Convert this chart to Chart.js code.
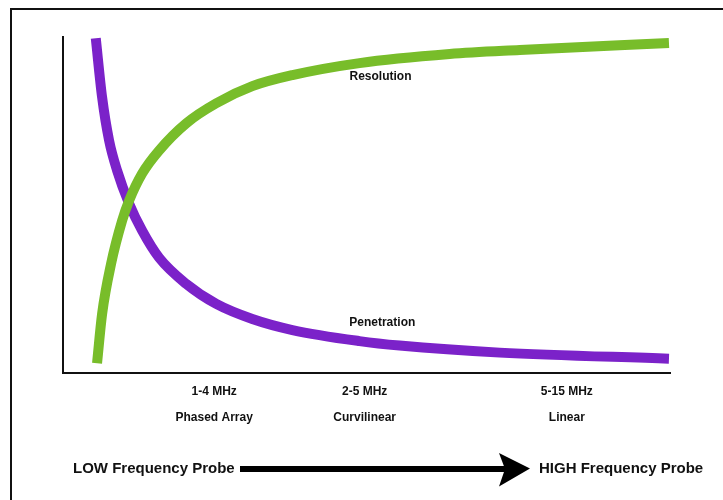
<!DOCTYPE html>
<html>
<head>
<meta charset="utf-8">
<script src="https://cdn.jsdelivr.net/npm/chart.js@4.4.1/dist/chart.umd.min.js"></script>
<style>
  body { margin: 0; width: 723px; height: 500px; overflow: hidden; background: #fff; position: relative; font-family: "Liberation Sans", Arial, sans-serif; }
  #frame { position: absolute; left: 10px; top: 8px; width: 760px; height: 540px; border: 2px solid #111; }
  #wrap { position: absolute; left: 0; top: 0; width: 723px; height: 500px; }
  .probe { position: absolute; top: 458px; font-size: 15px; line-height: 20px; font-weight: bold; color: #111; white-space: nowrap; }
  .low { left: 73px; }
  .high { left: 539px; }
  .arrow { position: absolute; left: 238px; top: 450px; }
</style>
</head>
<body>
<div id="frame"></div>
<div id="wrap"><canvas id="probeChart"></canvas></div>
<div class="probe low">LOW Frequency Probe</div>
<svg class="arrow" width="300" height="40">
  <rect x="2" y="16" width="266" height="6" fill="#000"></rect>
  <polygon points="261,3 292,18.5 261,36.5 267,19" fill="#000"></polygon>
</svg>
<div class="probe high">HIGH Frequency Probe</div>
<script>
document.addEventListener("DOMContentLoaded", function () {
  // frequency (0-100) vs relative amount (0-100)
  const resolutionX = [5.61, 6.44, 7.92, 9.74, 10.89, 13.04, 15.84, 20.3, 25.25, 31.19, 37.79, 48.84, 63.7, 75.25, 99.83];
  const resolutionY = [2.99, 17.61, 32.54, 45.37, 51.34, 59.4, 66.27, 74.33, 80.3, 85.37, 88.66, 92.24, 94.93, 96.12, 98.21];
  const penetrationX = [5.4, 6.44, 7.59, 8.91, 10.89, 13.04, 15.84, 20.3, 25.25, 31.19, 37.79, 48.84, 55.45, 71.95, 99.83];
  const penetrationY = [99.61, 82.09, 69.25, 60.3, 50.45, 42.39, 34.33, 26.57, 20.6, 16.12, 12.84, 9.55, 8.21, 6.12, 4.33];

  const probeTicks = [24.9, 49.7, 83.0];
  const probeLabels = [["1-4 MHz", "Phased Array"], ["2-5 MHz", "Curvilinear"], ["5-15 MHz", "Linear"]];

  const seriesNames = ["Resolution", "Penetration"];
  const seriesNameAt = [[52.3, 88.1], [52.6, 14.9]];

  const toPoints = (xs, ys) => xs.map((x, i) => ({ x: x, y: ys[i] }));

  // writes the curve names next to the curves
  const curveNames = {
    id: "curveNames",
    afterDatasetsDraw(chart) {
      const ctx = chart.ctx;
      const sx = chart.scales.x;
      const sy = chart.scales.y;
      ctx.save();
      ctx.font = "bold 12px 'Liberation Sans', Arial, sans-serif";
      ctx.fillStyle = "#111";
      ctx.textAlign = "center";
      ctx.textBaseline = "middle";
      seriesNames.forEach((name, i) => {
        ctx.fillText(name, sx.getPixelForValue(seriesNameAt[i][0]), sy.getPixelForValue(seriesNameAt[i][1]));
      });
      ctx.restore();
    },
  };

  new Chart("probeChart", {
    type: "line",
    data: {
      datasets: [
        {
          label: "Resolution",
          data: toPoints(resolutionX, resolutionY),
          borderColor: "#78bd2a",
          borderWidth: 10,
          pointRadius: 0,
          cubicInterpolationMode: "monotone",
          fill: false,
        },
        {
          label: "Penetration",
          data: toPoints(penetrationX, penetrationY),
          borderColor: "#7b22c9",
          borderWidth: 10,
          pointRadius: 0,
          cubicInterpolationMode: "monotone",
          fill: false,
        },
      ],
    },
    options: {
      responsive: true,
      maintainAspectRatio: false,
      animation: false,
      layout: {
        padding: { left: 55, top: 37, right: 53, bottom: 72 },
      },
      scales: {
        x: {
          type: "linear",
          min: 0,
          max: 100,
          grid: { display: false },
          border: { display: true, color: "#111", width: 2 },
          afterBuildTicks: function (axis) {
            axis.ticks = probeTicks.map((v) => ({ value: v }));
          },
          ticks: {
            autoSkip: false,
            maxRotation: 0,
            padding: -3,
            color: "#111",
            font: { family: "'Liberation Sans', Arial, sans-serif", size: 12, weight: "bold", lineHeight: 2.2 },
            callback: function (value, index) {
              return probeLabels[index];
            },
          },
        },
        y: {
          min: 0,
          max: 100,
          grid: { display: false },
          border: { display: true, color: "#111", width: 2 },
          ticks: { display: false },
        },
      },
      plugins: {
        legend: { display: false },
        tooltip: { enabled: false },
      },
    },
    plugins: [curveNames],
  });
});
</script>
</body>
</html>
